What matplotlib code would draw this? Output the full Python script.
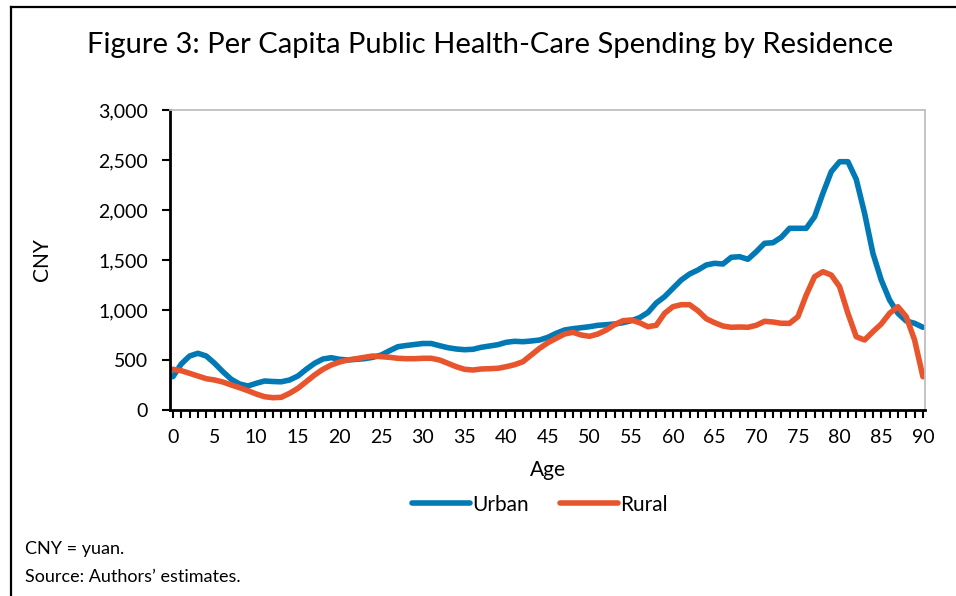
import numpy as np
import matplotlib.pyplot as plt
from matplotlib.lines import Line2D
from matplotlib.ticker import FuncFormatter, MultipleLocator

plt.rcParams['font.family'] = ['Lato', 'DejaVu Sans']

# Edad 0..90
ages = np.arange(0, 91)

urban = [333, 460, 540, 567, 540, 467, 383, 307, 260, 240,
         267, 290, 285, 282, 300, 340, 407, 467, 510, 523,
         507, 500, 507, 513, 527, 550, 593, 633, 645, 655,
         665, 665, 643, 623, 610, 603, 607, 627, 640, 653,
         677, 687, 683, 690, 700, 727, 767, 800, 813, 823,
         833, 847, 853, 860, 873, 893, 923, 975, 1070, 1133,
         1217, 1300, 1360, 1400, 1450, 1467, 1460, 1527, 1533, 1507,
         1583, 1667, 1673, 1727, 1817, 1817, 1817, 1933, 2167, 2383,
         2483, 2483, 2307, 1967, 1567, 1300, 1100, 967, 890, 867,
         827]

rural = [407, 393, 367, 340, 313, 300, 280, 250, 223, 193,
         160, 133, 123, 127, 167, 217, 283, 350, 407, 450,
         480, 500, 513, 527, 540, 533, 527, 517, 513, 513,
         517, 517, 500, 467, 433, 407, 400, 410, 413, 417,
         433, 453, 483, 550, 617, 673, 717, 760, 777, 750,
         737, 760, 800, 853, 893, 900, 873, 833, 847, 967,
         1033, 1053, 1053, 993, 913, 873, 840, 827, 830, 827,
         847, 887, 880, 867, 867, 933, 1150, 1333, 1383, 1350,
         1233, 967, 733, 700, 783, 860, 967, 1033, 933, 700,
         333]

blue = '#0079B5'
orange = '#E8552D'

fig = plt.figure(figsize=(9.56, 5.96), dpi=100)
W, H = 956, 596
ax = fig.add_axes([170 / W, 1 - 410 / H, 755 / W, 300 / H])

ax.plot(ages, urban, color=blue, lw=4, solid_capstyle='round', label='Urban')
ax.plot(ages, rural, color=orange, lw=4, solid_capstyle='round', label='Rural')

ax.set_xlim(-0.35, 90.25)
ax.set_ylim(0, 3000)
ax.xaxis.set_major_locator(MultipleLocator(5))
ax.xaxis.set_minor_locator(MultipleLocator(1))
ax.yaxis.set_major_locator(MultipleLocator(500))
ax.yaxis.set_major_formatter(FuncFormatter(lambda v, p: f"{int(v):,}"))

ax.tick_params(axis='both', which='both', direction='out', colors='black',
               labelsize=14, width=1.5)
ax.tick_params(axis='y', length=6, pad=10)
ax.tick_params(axis='x', which='both', length=6, pad=8)

for s in ['top', 'right']:
    ax.spines[s].set_color('#BFBFBF')
    ax.spines[s].set_linewidth(1.3)
for s in ['left', 'bottom']:
    ax.spines[s].set_color('black')
    ax.spines[s].set_linewidth(2)

ax.set_xlabel('Age', fontsize=15, labelpad=10)
ax.set_ylabel('CNY', fontsize=15, labelpad=33)

ax.legend(loc='upper center', bbox_to_anchor=(0.49, -0.22), ncol=2, frameon=False,
          fontsize=15, handlelength=2.8, handletextpad=0.1, columnspacing=1.5)

fig.text(490 / W, 1 - 45 / H, 'Figure 3: Per Capita Public Health-Care Spending by Residence',
         ha='center', va='center', fontsize=21)
fig.text(25 / W, 1 - 549 / H, 'CNY = yuan.', ha='left', va='center', fontsize=13)
fig.text(25 / W, 1 - 577 / H, 'Source: Authors\u2019 estimates.', ha='left', va='center', fontsize=13)

# marco
fig.add_artist(Line2D([11 / W, 1], [1 - 7 / H, 1 - 7 / H], color='black', lw=1.6,
                      transform=fig.transFigure))
fig.add_artist(Line2D([11 / W, 11 / W], [1 - 7 / H, 0], color='black', lw=1.6,
                      transform=fig.transFigure))

fig.savefig('out.png', dpi=100)
